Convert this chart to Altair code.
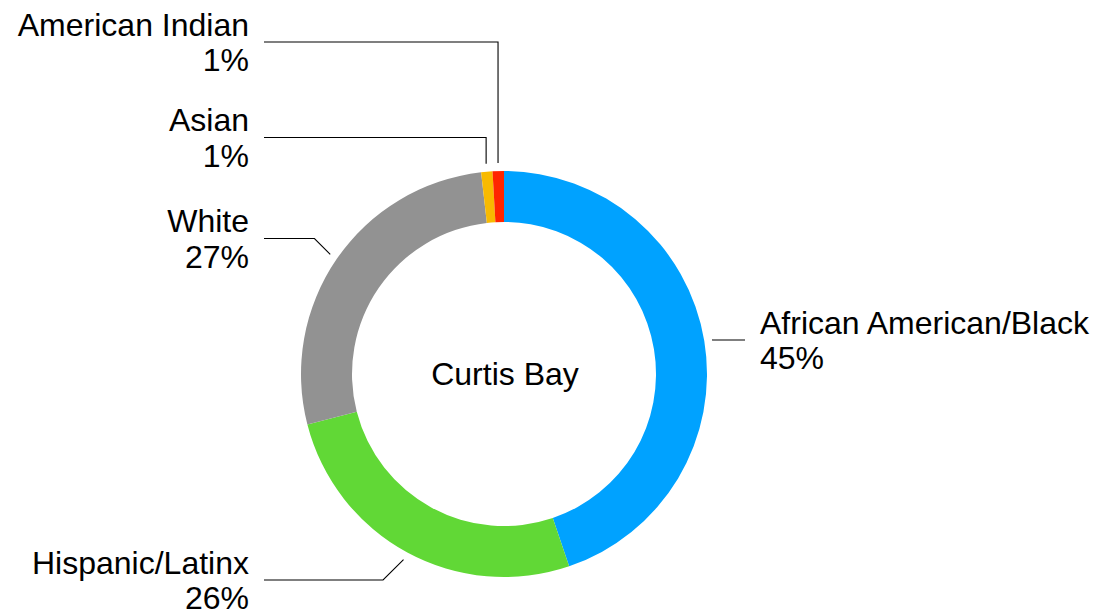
import math
import altair as alt
import pandas as pd

# ---- data ----
categories = ["African American/Black", "Hispanic/Latinx", "White", "Asian", "American Indian"]
values = [44.8, 26.2, 27.2, 0.9, 0.9]
pct_labels = ["45%", "26%", "27%", "1%", "1%"]
colors = ["#00A2FF", "#61D836", "#929292", "#F8BA00", "#FF2600"]
center_label = "Curtis Bay"

# ---- layout (image pixel coordinates) ----
W, H, M = 1087, 607, 8
CX, CY = 504, 374
R_OUT, R_IN, R_ANCHOR = 203, 152, 211
label_line_y = [340, 580, 238.5, 137.5, 42]
label_side = ["right", "left", "left", "left", "left"]
connector = ["diag", "diag", "diag", "vertical", "vertical"]
LEFT_TEXT_X, RIGHT_TEXT_X = 249, 760
LEFT_LINE_END, RIGHT_LINE_END = 264, 745
FONT = "Liberation Sans"
FS = 32

slices = pd.DataFrame({"cat": categories, "value": values, "idx": range(len(categories))})

# connector polylines computed from the slice angles
total = sum(values)
line_rows, left_txt, right_txt = [], [], []
cum = 0.0
for i, (c, v) in enumerate(zip(categories, values)):
    mid = (cum + v / 2) / total * 2 * math.pi
    cum += v
    ax = CX + R_ANCHOR * math.sin(mid)
    ay = CY - R_ANCHOR * math.cos(mid)
    ly = label_line_y[i]
    s = 1 if label_side[i] == "right" else -1
    if connector[i] == "vertical":
        kx = ax
    else:
        kx = ax + s * abs(ay - ly)
    ex = RIGHT_LINE_END if s == 1 else LEFT_LINE_END
    for j, (px, py) in enumerate([(ax, ay), (kx, ly), (ex, ly)]):
        line_rows.append({"cat": c, "seq": j, "x": px, "y": py})
    tx = RIGHT_TEXT_X if s == 1 else LEFT_TEXT_X
    target = right_txt if s == 1 else left_txt
    target.append({"x": tx, "y": ly - 6.5, "t": c})
    target.append({"x": tx, "y": ly + 29, "t": pct_labels[i]})

lines = pd.DataFrame(line_rows)
ltxt = pd.DataFrame(left_txt)
rtxt = pd.DataFrame(right_txt)
ctr = pd.DataFrame({"x": [505], "y": [385], "t": [center_label]})

xs = alt.Scale(domain=[M, M + W], range=[0, W], nice=False, zero=False)
ys = alt.Scale(domain=[M, M + H], range=[0, H], nice=False, zero=False)

arc = alt.Chart(slices).mark_arc(outerRadius=R_OUT, innerRadius=R_IN, strokeWidth=0).encode(
    theta=alt.Theta("value:Q", stack=True),
    order=alt.Order("idx:Q"),
    color=alt.Color("cat:N", scale=alt.Scale(domain=categories, range=colors), legend=None),
    x=alt.value(CX - M),
    y=alt.value(CY - M),
)

conn = alt.Chart(lines).mark_line(color="#000000", strokeWidth=1.1).encode(
    x=alt.X("x:Q", scale=xs, axis=None),
    y=alt.Y("y:Q", scale=ys, axis=None),
    detail="cat:N",
    order=alt.Order("seq:Q"),
)

def txt(df, align):
    return alt.Chart(df).mark_text(
        align=align, baseline="alphabetic", font=FONT, fontSize=FS, color="#000000"
    ).encode(
        x=alt.X("x:Q", scale=xs, axis=None),
        y=alt.Y("y:Q", scale=ys, axis=None),
        text="t:N",
    )

chart = alt.layer(
    arc, conn, txt(ltxt, "right"), txt(rtxt, "left"), txt(ctr, "center")
).properties(
    width=W, height=H, autosize=alt.AutoSizeParams(type="none"), padding=0,
    background="#ffffff",
).configure_view(strokeWidth=0)

chart.save("out.html", embed_options={"renderer": "svg", "actions": False})
